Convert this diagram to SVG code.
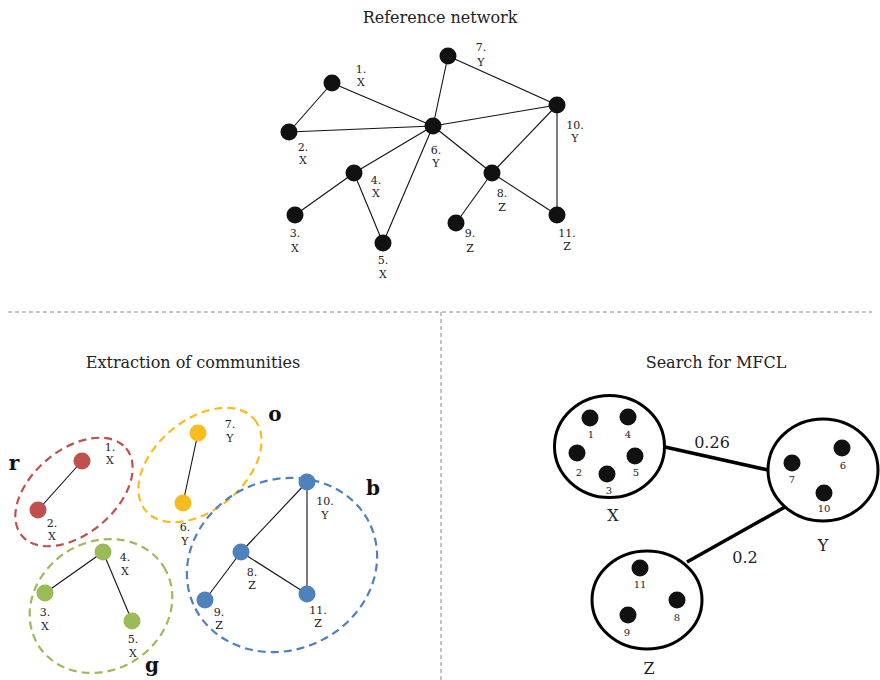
<svg xmlns="http://www.w3.org/2000/svg" width="880" height="680" viewBox="0 0 880 680">
<style>
text{font-family:"DejaVu Serif","Liberation Serif",serif;fill:#222}
.title{font-size:16px;text-anchor:middle}
.lb{font-size:11px;text-anchor:middle}
.sm{font-size:10px;text-anchor:middle}
.big{font-size:16px;text-anchor:middle}
.let{font-size:20px;font-weight:bold;text-anchor:middle;fill:#111}
.e{stroke:#111;stroke-width:1.1;fill:none}
.te{stroke:#000;stroke-width:3.5;fill:none}
.div{stroke:#888;stroke-width:1;stroke-dasharray:4 3;fill:none}
.blk{fill:#111}
.grp{fill:#fff;stroke:#000;stroke-width:3}
.dash{fill:none;stroke-width:2.2;stroke-dasharray:8 5}
</style>
<rect width="880" height="680" fill="#fff"/>
<text class="title" x="440" y="23">Reference network</text>
<text class="title" x="193" y="368">Extraction of communities</text>
<text class="title" x="716" y="368">Search for MFCL</text>
<g id="dividers">
<line class="div" x1="8" y1="312" x2="872" y2="312"/>
<line class="div" x1="441" y1="312" x2="441" y2="680"/>
</g>
<g id="connectors">
<g id="ref-edges">
<line class="e" x1="332" y1="83" x2="289" y2="132"/>
<line class="e" x1="332" y1="83" x2="433" y2="126"/>
<line class="e" x1="289" y1="132" x2="433" y2="126"/>
<line class="e" x1="433" y1="126" x2="448" y2="56"/>
<line class="e" x1="448" y1="56" x2="557" y2="105"/>
<line class="e" x1="433" y1="126" x2="557" y2="105"/>
<line class="e" x1="433" y1="126" x2="354" y2="173"/>
<line class="e" x1="433" y1="126" x2="383" y2="243"/>
<line class="e" x1="354" y1="173" x2="295" y2="215"/>
<line class="e" x1="354" y1="173" x2="383" y2="243"/>
<line class="e" x1="433" y1="126" x2="492" y2="173"/>
<line class="e" x1="492" y1="173" x2="557" y2="105"/>
<line class="e" x1="492" y1="173" x2="456" y2="223"/>
<line class="e" x1="492" y1="173" x2="557" y2="215"/>
<line class="e" x1="557" y1="105" x2="557" y2="215"/>
</g>
<g id="comm-edges">
<line class="e" x1="82" y1="461" x2="38" y2="510"/>
<line class="e" x1="198" y1="433" x2="183" y2="503"/>
<line class="e" x1="103" y1="552" x2="45" y2="593"/>
<line class="e" x1="103" y1="552" x2="132" y2="621"/>
<line class="e" x1="307" y1="482" x2="241" y2="552"/>
<line class="e" x1="241" y1="552" x2="205" y2="600"/>
<line class="e" x1="241" y1="552" x2="307" y2="594"/>
<line class="e" x1="307" y1="482" x2="307" y2="594"/>
</g>
<g id="mfcl-edges">
<line class="te" x1="665" y1="447" x2="768" y2="470"/>
<line class="te" x1="785" y1="507" x2="687" y2="562"/>
</g>
</g>
<g id="ref-nodes" class="blk">
<g id="r1"><circle cx="332" cy="83" r="8.5"/><text class="lb" x="361" y="73">1.</text><text class="lb" x="361" y="86">X</text></g>
<g id="r2"><circle cx="289" cy="132" r="8.5"/><text class="lb" x="303" y="151">2.</text><text class="lb" x="303" y="164">X</text></g>
<g id="r3"><circle cx="295" cy="215" r="8.5"/><text class="lb" x="295" y="237">3.</text><text class="lb" x="295" y="252">X</text></g>
<g id="r4"><circle cx="354" cy="173" r="8.5"/><text class="lb" x="376" y="184">4.</text><text class="lb" x="376" y="197">X</text></g>
<g id="r5"><circle cx="383" cy="243" r="8.5"/><text class="lb" x="383" y="264">5.</text><text class="lb" x="383" y="278">X</text></g>
<g id="r6"><circle cx="433" cy="126" r="8.5"/><text class="lb" x="436" y="154">6.</text><text class="lb" x="436" y="167">Y</text></g>
<g id="r7"><circle cx="448" cy="56" r="8.5"/><text class="lb" x="481" y="51">7.</text><text class="lb" x="481" y="66">Y</text></g>
<g id="r8"><circle cx="492" cy="173" r="8.5"/><text class="lb" x="502" y="197">8.</text><text class="lb" x="502" y="211">Z</text></g>
<g id="r9"><circle cx="456" cy="223" r="8.5"/><text class="lb" x="470" y="237">9.</text><text class="lb" x="470" y="252">Z</text></g>
<g id="r10"><circle cx="557" cy="105" r="8.5"/><text class="lb" x="575" y="129">10.</text><text class="lb" x="575" y="142">Y</text></g>
<g id="r11"><circle cx="557" cy="215" r="8.5"/><text class="lb" x="567" y="237">11.</text><text class="lb" x="567" y="250">Z</text></g>
</g>
<g id="community-r">
<ellipse class="dash" stroke="#C0504D" cx="74" cy="492" rx="68" ry="42" transform="rotate(-40 74 492)"/>
<circle cx="82" cy="461" r="8.5" fill="#C0504D"/><circle cx="38" cy="510" r="8.5" fill="#C0504D"/>
<text class="lb" x="110" y="451">1.</text><text class="lb" x="110" y="464">X</text>
<text class="lb" x="52" y="527">2.</text><text class="lb" x="52" y="540">X</text>
<text class="let" x="14" y="470">r</text>
</g>
<g id="community-o">
<ellipse class="dash" stroke="#F9BC1F" cx="200" cy="465" rx="71" ry="45" transform="rotate(-40 200 465)"/>
<circle cx="198" cy="433" r="8.5" fill="#F9BC1F"/><circle cx="183" cy="503" r="8.5" fill="#F9BC1F"/>
<text class="lb" x="230" y="428">7.</text><text class="lb" x="230" y="442">Y</text>
<text class="lb" x="185" y="531">6.</text><text class="lb" x="185" y="545">Y</text>
<text class="let" x="275" y="421">o</text>
</g>
<g id="community-b">
<ellipse class="dash" stroke="#4F81BD" cx="282" cy="565" rx="97" ry="85" transform="rotate(-24 282 565)"/>
<circle cx="307" cy="482" r="8.5" fill="#4F81BD"/><circle cx="241" cy="552" r="8.5" fill="#4F81BD"/>
<circle cx="205" cy="600" r="8.5" fill="#4F81BD"/><circle cx="307" cy="594" r="8.5" fill="#4F81BD"/>
<text class="lb" x="325" y="505">10.</text><text class="lb" x="325" y="519">Y</text>
<text class="lb" x="252" y="576">8.</text><text class="lb" x="252" y="589">Z</text>
<text class="lb" x="219" y="616">9.</text><text class="lb" x="219" y="629">Z</text>
<text class="lb" x="318" y="614">11.</text><text class="lb" x="318" y="627">Z</text>
<text class="let" x="373" y="495">b</text>
</g>
<g id="community-g">
<ellipse class="dash" stroke="#9BBB59" cx="101" cy="606" rx="74" ry="64" transform="rotate(-32 101 606)"/>
<circle cx="103" cy="552" r="8.5" fill="#9BBB59"/><circle cx="45" cy="593" r="8.5" fill="#9BBB59"/><circle cx="132" cy="621" r="8.5" fill="#9BBB59"/>
<text class="lb" x="125" y="561">4.</text><text class="lb" x="125" y="575">X</text>
<text class="lb" x="45" y="616">3.</text><text class="lb" x="45" y="630">X</text>
<text class="lb" x="133" y="643">5.</text><text class="lb" x="133" y="657">X</text>
<text class="let" x="152" y="672">g</text>
</g>
<g id="group-X">
<ellipse class="grp" cx="609.5" cy="446.5" rx="55" ry="51"/>
<g class="blk"><circle cx="590" cy="418" r="8.5"/><circle cx="628" cy="417" r="8.5"/><circle cx="577" cy="453" r="8.5"/><circle cx="635" cy="456" r="8.5"/><circle cx="607" cy="474" r="8.5"/></g>
<text class="sm" x="591" y="438">1</text><text class="sm" x="628" y="438">4</text><text class="sm" x="579" y="476">2</text><text class="sm" x="636" y="476">5</text><text class="sm" x="609" y="494">3</text>
<text class="big" x="613" y="521">X</text>
</g>
<g id="group-Y">
<ellipse class="grp" cx="823" cy="470" rx="55" ry="51"/>
<g class="blk"><circle cx="792" cy="463" r="8.5"/><circle cx="842" cy="448" r="8.5"/><circle cx="824" cy="493" r="8.5"/></g>
<text class="sm" x="792" y="483">7</text><text class="sm" x="843" y="469">6</text><text class="sm" x="824" y="512">10</text>
<text class="big" x="823" y="551">Y</text>
</g>
<g id="group-Z">
<ellipse class="grp" cx="647" cy="600" rx="55" ry="49"/>
<g class="blk"><circle cx="640" cy="568" r="8.5"/><circle cx="677" cy="600" r="8.5"/><circle cx="628" cy="615" r="8.5"/></g>
<text class="sm" x="640" y="588">11</text><text class="sm" x="677" y="621">8</text><text class="sm" x="627" y="636">9</text>
<text class="big" x="649" y="674">Z</text>
</g>
<g id="edge-labels">
<text class="big" x="712" y="448">0.26</text>
<text class="big" x="745" y="563">0.2</text>
</g>
</svg>
